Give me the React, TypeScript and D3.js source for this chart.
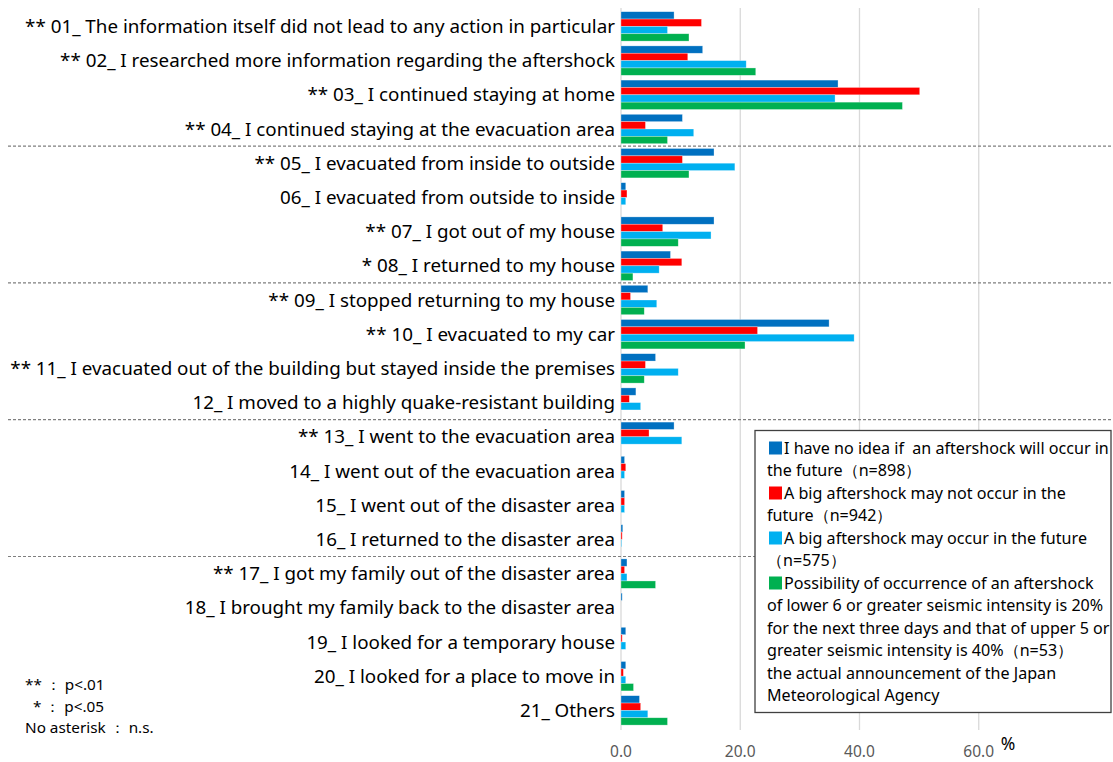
import React from "react";
import * as d3 from "d3";

const categories = [
  "** 01_ The information itself did not lead to any action in particular",
  "** 02_ I researched more information regarding the aftershock",
  "** 03_ I continued staying at home",
  "** 04_ I continued staying at the evacuation area",
  "** 05_ I evacuated from inside to outside",
  "06_ I evacuated from outside to inside",
  "** 07_ I got out of my house",
  "* 08_ I returned to my house",
  "** 09_ I stopped returning to my house",
  "** 10_ I evacuated to my car",
  "** 11_ I evacuated out of the building but stayed inside the premises",
  "12_ I moved to a highly quake-resistant building",
  "** 13_ I went to the evacuation area",
  "14_ I went out of the evacuation area",
  "15_ I went out of the disaster area",
  "16_ I returned to the disaster area",
  "** 17_ I got my family out of the disaster area",
  "18_ I brought my family back to the disaster area",
  "19_ I looked for a temporary house",
  "20_ I looked for a place to move in",
  "21_ Others",
];

const noIdea = [8.9, 13.7, 36.4, 10.3, 15.6, 0.8, 15.6, 8.3, 4.5, 34.9, 5.8, 2.5, 8.9, 0.6, 0.6, 0.3, 1.0, 0.2, 0.8, 0.8, 3.1];
const mayNotOccur = [13.5, 11.2, 50.1, 4.1, 10.3, 1.0, 7.0, 10.2, 1.6, 22.9, 4.1, 1.4, 4.7, 0.8, 0.6, 0.2, 0.6, 0, 0.2, 0.4, 3.3];
const mayOccur = [7.8, 21.0, 35.9, 12.2, 19.1, 0.8, 15.1, 6.4, 6.0, 39.1, 9.6, 3.3, 10.2, 0.6, 0.6, 0.1, 1.0, 0, 0.8, 0.8, 4.5];
const jma = [11.4, 22.6, 47.2, 7.8, 11.4, 0, 9.6, 2.0, 3.9, 20.8, 3.9, 0, 0, 0, 0, 0, 5.8, 0, 0, 2.1, 7.8];

const seriesNames = ["noIdea", "mayNotOccur", "mayOccur", "jma"];
const seriesValues = [noIdea, mayNotOccur, mayOccur, jma];
const seriesColors = ["#0070C0", "#FF0000", "#00B0F0", "#00B050"];

const xTicks = [0, 20, 40, 60];
const separatorsAfter = [3, 7, 11, 15];

const legendLines: { color?: string; text: string }[] = [
  { color: "#0070C0", text: "I have no idea if  an aftershock will occur in" },
  { text: "the future\uFF08n=898\uFF09" },
  { color: "#FF0000", text: "A big aftershock may not occur in the" },
  { text: "future\uFF08n=942\uFF09" },
  { color: "#00B0F0", text: "A big aftershock may occur in the future" },
  { text: "\uFF08n=575\uFF09" },
  { color: "#00B050", text: "Possibility of occurrence of an aftershock" },
  { text: "of lower 6 or greater seismic intensity is 20%" },
  { text: "for the next three days and that of upper 5 or" },
  { text: "greater seismic intensity is 40%\uFF08n=53\uFF09" },
  { text: "the actual announcement of the Japan" },
  { text: "Meteorological Agency" },
];

const notes = ["** \uFF1A p<.01", "  * \uFF1A p<.05", "No asterisk \uFF1A n.s."];

const W = 1113;
const H = 762;
const FONT = "'Noto Sans', 'Open Sans', sans-serif";

export default function App() {
  const x = d3.scaleLinear().domain([0, 80]).range([621, 1098]);
  const y = d3
    .scaleBand<number>()
    .domain(d3.range(categories.length))
    .range([9.3, 727.5])
    .paddingInner(0.14)
    .paddingOuter(0.07);
  const ys = d3
    .scaleBand<number>()
    .domain(d3.range(seriesNames.length))
    .range([0, y.bandwidth()]);
  const step = y.step();
  const topEdge = 9.3;

  return (
    <svg
      width={W}
      height={H}
      style={{ position: "absolute", left: 0, top: 0, background: "#fff" }}
      fontFamily={FONT}
    >
      <rect x={0} y={0} width={W} height={H} fill="#fff" />
      {xTicks.map((t) => (
        <line key={t} x1={x(t)} x2={x(t)} y1={8} y2={730} stroke="#d9d9d9" strokeWidth={1.3} />
      ))}
      {separatorsAfter.map((i) => {
        const yy = topEdge + (i + 1) * step;
        return (
          <line key={i} x1={8} x2={W} y1={yy} y2={yy} stroke="#7f7f7f" strokeWidth={1.2} strokeDasharray="3 2" />
        );
      })}
      {categories.map((c, i) => (
        <g key={c} transform={`translate(0,${y(i)})`}>
          {seriesValues.map((vals, s) =>
            vals[i] > 0 ? (
              <rect
                key={s}
                x={x(0)}
                y={ys(s)!}
                width={x(vals[i]) - x(0)}
                height={ys.bandwidth()}
                fill={seriesColors[s]}
                stroke="#ffffff"
                strokeOpacity={0.5}
                strokeWidth={0.6}
              />
            ) : null
          )}
          <text
            x={615}
            y={y.bandwidth() / 2}
            dy="0.35em"
            textAnchor="end"
            fontSize={18.8}
            fill="#000"
          >
            {c}
          </text>
        </g>
      ))}
      {xTicks.map((t) => (
        <text key={t} x={x(t)} y={751.5} dy="0.35em" textAnchor="middle" fontSize={15.5} fill="#595959">
          {t.toFixed(1)}
        </text>
      ))}
      <text x={1008} y={744} dy="0.35em" textAnchor="middle" fontSize={17.5} fill="#000">
        %
      </text>
      <rect x={755} y={430.5} width={356} height={282} fill="#fff" stroke="#404040" strokeWidth={1.3} />
      {legendLines.map((l, i) => {
        const yy = 448 + i * 22.5;
        return (
          <g key={i}>
            {l.color ? <rect x={769} y={yy - 6.5} width={13} height={13} fill={l.color} /> : null}
            <text
              x={l.color ? 784 : 767}
              y={yy}
              dy="0.35em"
              fontSize={16.1}
              fill="#000"
              style={{ whiteSpace: "pre" }}
            >
              {l.text}
            </text>
          </g>
        );
      })}
      {notes.map((n, i) => (
        <text key={i} x={25} y={685 + i * 21.5} dy="0.35em" fontSize={15.3} fill="#000" style={{ whiteSpace: "pre" }}>
          {n}
        </text>
      ))}
    </svg>
  );
}
